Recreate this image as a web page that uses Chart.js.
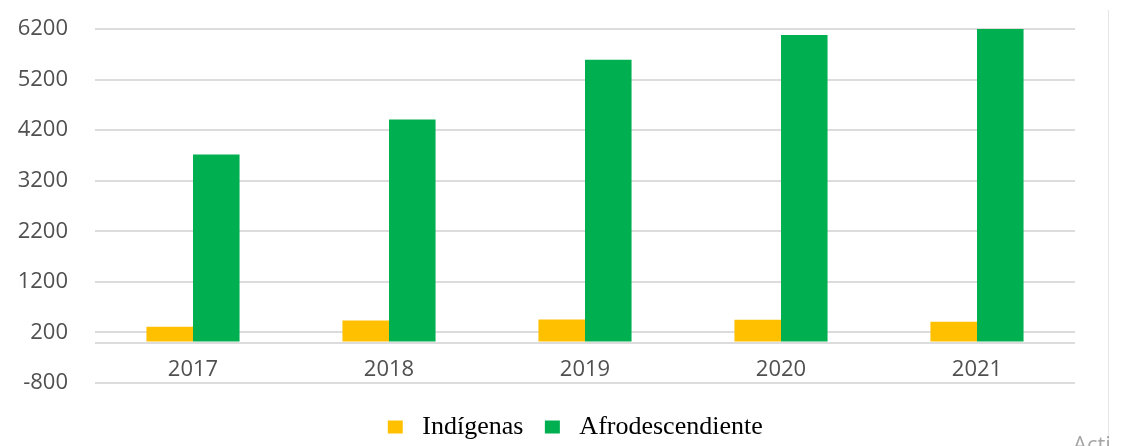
<!DOCTYPE html>
<html>
<head>
<meta charset="utf-8">
<script src="https://cdn.jsdelivr.net/npm/chart.js@4/dist/chart.umd.min.js"></script>
<style>
  html, body { margin: 0; padding: 0; background: #fff; }
  #wrap { position: relative; width: 1121px; height: 446px; overflow: hidden; }
  #edge { position: absolute; left: 1108px; top: 10px; width: 1px; height: 436px; background: #e6e6e6; }
  #mark { position: absolute; left: 1073px; top: 428px; font: 22px "Open Sans", sans-serif; color: #a6a6a6; }
</style>
</head>
<body>
<div id="wrap">
  <canvas id="chart" width="1121" height="446"></canvas>
  <div id="edge"></div>
  <div id="mark">Acti</div>
</div>
<script>
const years = ["2017", "2018", "2019", "2020", "2021"];
const indigenas = [310, 435, 455, 450, 410];
const afro = [3720, 4410, 5590, 6080, 6200];
const yMin = -800, yMax = 6200, yStep = 1000;

const tickFont = {family: "'Open Sans', sans-serif", size: 22};
const tickColor = "#505050";

// category labels sit just under the zero line, as in the original
const yearLabels = {
  id: "yearLabels",
  afterDraw(chart){
    const {ctx, scales: {x, y}} = chart;
    const y0 = y.getPixelForValue(0);
    ctx.save();
    ctx.font = tickFont.size + "px " + tickFont.family;
    ctx.fillStyle = tickColor;
    ctx.textAlign = "center";
    ctx.textBaseline = "middle";
    years.forEach((lab, i) => ctx.fillText(lab, x.getPixelForValue(i), y0 + 27));
    ctx.restore();
  }
};

new Chart(document.getElementById("chart"), {
  type: "bar",
  data: {
    labels: years,
    datasets: [
      {label: "Indígenas", data: indigenas, backgroundColor: "#FFC000"},
      {label: "Afrodescendiente", data: afro, backgroundColor: "#00B050"}
    ]
  },
  options: {
    responsive: false,
    animation: false,
    layout: {padding: {top: 29, right: 46, bottom: -4, left: 0}},
    datasets: {bar: {categoryPercentage: 0.475, barPercentage: 1, borderWidth: 0}},
    plugins: {
      tooltip: {enabled: false},
      legend: {
        position: "bottom",
        fullSize: false,
        labels: {
          boxWidth: 15,
          boxHeight: 13,
          padding: 2,
          color: "#000",
          font: {family: "'Liberation Serif', 'Times New Roman', serif", size: 26},
          generateLabels(chart){
            const items = Chart.defaults.plugins.legend.labels.generateLabels(chart);
            items.forEach(it => { it.text = " " + it.text + "   "; it.lineWidth = 0; });
            return items;
          }
        }
      }
    },
    scales: {
      x: {
        grid: {display: false, drawTicks: false},
        border: {display: false},
        ticks: {display: false},
        afterFit(s){ s.height = 29; }
      },
      y: {
        min: yMin,
        max: yMax,
        grid: {color: "#dcdcdc", lineWidth: 2, drawTicks: false},
        border: {display: false},
        ticks: {
          stepSize: yStep,
          color: tickColor,
          font: tickFont,
          padding: 27,
          callback: v => v === 0 ? "" : String(v)
        },
        afterBuildTicks(s){
          s.ticks.push({value: 0});
          s.ticks.sort((a, b) => a.value - b.value);
        },
        afterFit(s){
          s.width = 95;
          s.paddingTop = 0;
          s.paddingBottom = 0;
        }
      }
    }
  },
  plugins: [yearLabels]
});
</script>
</body>
</html>
